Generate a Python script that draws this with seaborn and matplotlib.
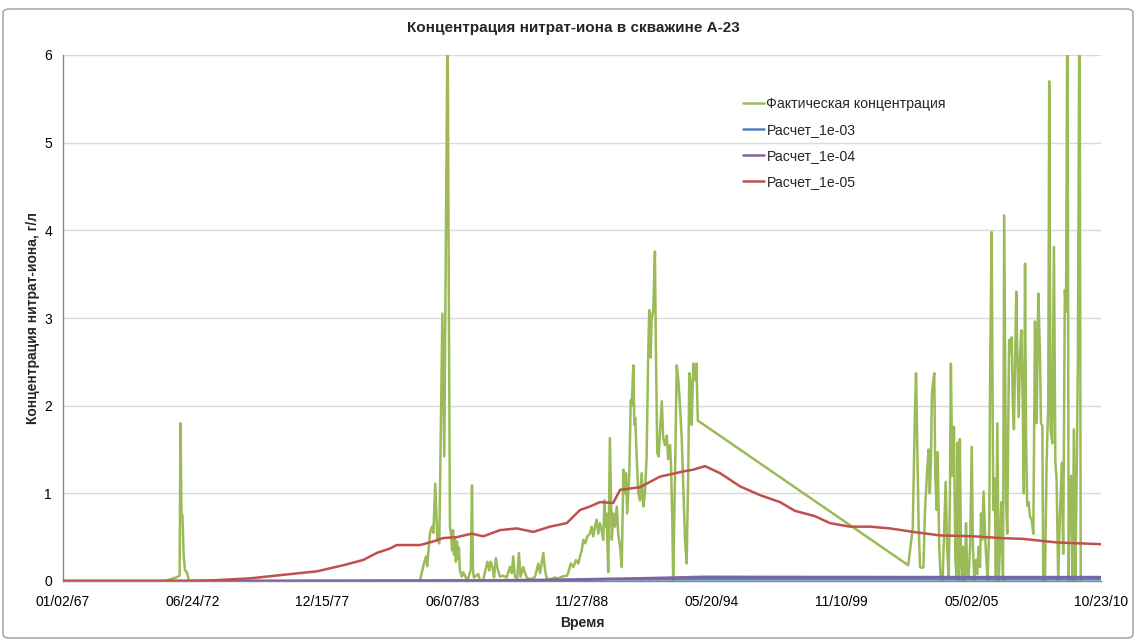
import numpy as np
import pandas as pd
import matplotlib
matplotlib.use("Agg")
import matplotlib.pyplot as plt
import matplotlib.dates as mdates
from matplotlib.patches import FancyBboxPatch
import seaborn as sns

# ---------------- data (time in decimal years, concentration in g/l) ----------------
fact_years = [
    1971.30, 1971.77, 1971.92, 1971.96, 1972.00, 1972.04, 1972.09, 1972.15, 1972.23, 1972.32,
    1977.00, 1981.90,
    1982.07, 1982.23, 1982.32, 1982.37, 1982.49, 1982.57, 1982.63, 1982.71, 1982.80, 1982.88,
    1983.01, 1983.09, 1983.23, 1983.28, 1983.33, 1983.37, 1983.42, 1983.46, 1983.50, 1983.54,
    1983.58, 1983.63, 1983.67, 1983.71, 1983.75, 1983.83, 1983.89, 1984.04, 1984.10, 1984.21,
    1984.26, 1984.30, 1984.34, 1984.53, 1984.60, 1984.72, 1984.91, 1984.99, 1985.05, 1985.13,
    1985.19, 1985.27, 1985.33, 1985.44, 1985.58, 1985.72, 1985.86, 1985.94, 1986.00, 1986.07,
    1986.17, 1986.24, 1986.31, 1986.42, 1986.50, 1986.59, 1986.78, 1986.92, 1987.06, 1987.13,
    1987.20, 1987.27, 1987.34, 1987.41, 1987.55, 1987.76, 1987.90, 1988.05, 1988.26, 1988.32,
    1988.43, 1988.54, 1988.65, 1988.75, 1988.82, 1988.89, 1988.96, 1989.04, 1989.13, 1989.24,
    1989.31, 1989.38, 1989.45, 1989.52, 1989.59, 1989.66, 1989.73, 1989.80, 1989.85, 1989.89,
    1989.94, 1990.01, 1990.08, 1990.16, 1990.22, 1990.29, 1990.37, 1990.43, 1990.51, 1990.58,
    1990.65, 1990.72, 1990.76, 1990.81, 1990.90, 1990.96, 1991.00, 1991.07, 1991.11, 1991.15,
    1991.21, 1991.28, 1991.35, 1991.42, 1991.49, 1991.56, 1991.63, 1991.70, 1991.74, 1991.80,
    1991.84, 1991.91, 1991.98, 1992.02, 1992.08, 1992.14, 1992.19, 1992.27, 1992.33, 1992.40,
    1992.48, 1992.54, 1992.62, 1992.66, 1992.71, 1992.75, 1992.83, 1992.90, 1992.97, 1993.04,
    1993.11, 1993.18, 1993.25, 1993.32, 1993.39, 1993.43, 1993.49, 1993.53, 1993.60, 1993.67,
    1993.73, 1993.79,
    2002.67, 2002.86, 2002.95, 2003.00, 2003.05, 2003.11, 2003.17, 2003.25, 2003.31, 2003.38,
    2003.47, 2003.53, 2003.58, 2003.63, 2003.67, 2003.73, 2003.77, 2003.81, 2003.87, 2003.91,
    2003.98, 2004.04, 2004.12, 2004.19, 2004.25, 2004.31, 2004.38, 2004.43, 2004.47, 2004.53,
    2004.60, 2004.66, 2004.71, 2004.76, 2004.80, 2004.85, 2004.90, 2004.94, 2004.99, 2005.05,
    2005.11, 2005.16, 2005.22, 2005.28, 2005.35, 2005.40, 2005.46, 2005.53, 2005.58, 2005.64,
    2005.70, 2005.74, 2005.79, 2005.85, 2005.91, 2005.96, 2006.02, 2006.09, 2006.13, 2006.19,
    2006.26, 2006.32, 2006.37, 2006.43, 2006.49, 2006.60, 2006.67, 2006.72, 2006.80, 2006.85,
    2006.89, 2006.93, 2006.99, 2007.04, 2007.08, 2007.13, 2007.19, 2007.23, 2007.27, 2007.33,
    2007.39, 2007.44, 2007.50, 2007.55, 2007.60, 2007.64, 2007.69, 2007.75, 2007.81, 2007.88,
    2007.95, 2008.02, 2008.09, 2008.16, 2008.23, 2008.27, 2008.33, 2008.37, 2008.44, 2008.51,
    2008.58, 2008.62, 2008.68, 2008.75, 2008.82, 2008.88, 2008.93, 2009.00, 2009.07, 2009.15,
    2009.21, 2009.28, 2009.33, 2009.39, 2009.44, 2009.50, 2009.55, 2009.61, 2009.66, 2009.72,
    2009.78, 2009.83, 2009.90, 2009.95,
]
fact_vals = [
    0.0, 0.04, 0.06, 1.80, 0.78, 0.75, 0.30, 0.12, 0.10, 0.0,
    0.0, 0.0,
    0.01, 0.20, 0.28, 0.17, 0.55, 0.62, 0.55, 1.11, 0.47, 0.43,
    3.05, 1.42, 6.50, 3.34, 0.62, 0.55, 0.35, 0.58, 0.30, 0.50,
    0.22, 0.45, 0.25, 0.38, 0.12, 0.05, 0.10, 0.02, 0.03, 0.13,
    1.09, 0.13, 0.04, 0.08, 0.0, 0.0, 0.22, 0.12, 0.22, 0.15,
    0.04, 0.26, 0.15, 0.05, 0.06, 0.04, 0.16, 0.09, 0.28, 0.05,
    0.03, 0.32, 0.05, 0.16, 0.09, 0.03, 0.02, 0.05, 0.20, 0.09,
    0.20, 0.32, 0.13, 0.03, 0.02, 0.04, 0.03, 0.05, 0.06, 0.09,
    0.20, 0.16, 0.24, 0.20, 0.28, 0.35, 0.47, 0.43, 0.51, 0.54,
    0.62, 0.51, 0.62, 0.70, 0.54, 0.66, 0.58, 0.47, 0.92, 0.62,
    0.77, 0.10, 1.63, 0.47, 0.77, 0.62, 0.85, 0.54, 0.39, 0.16,
    1.27, 1.00, 1.23, 0.77, 1.23, 2.06, 2.00, 2.46, 1.78, 1.86,
    1.42, 1.00, 0.92, 1.23, 0.85, 1.00, 1.42, 2.63, 3.09, 2.55,
    2.98, 3.09, 3.76, 2.67, 1.46, 1.42, 1.68, 2.05, 1.63, 1.55,
    1.66, 1.39, 1.55, 1.31, 0.73, 0.01, 1.23, 2.46, 2.29, 1.99,
    1.63, 1.05, 0.47, 0.20, 1.31, 2.37, 2.25, 1.78, 2.48, 2.29,
    2.48, 1.83,
    0.18, 0.60, 1.87, 2.37, 1.56, 0.62, 0.16, 0.15, 0.16, 0.81,
    1.27, 1.50, 1.00, 1.39, 2.14, 2.29, 2.37, 1.20, 0.81, 1.47,
    0.39, 0.02, 0.0, 0.62, 1.13, 0.39, 0.02, 1.00, 2.48, 1.20,
    1.76, 0.24, 0.04, 1.58, 0.0, 1.62, 0.24, 0.0, 0.39, 0.0,
    0.66, 0.08, 0.04, 0.39, 1.53, 0.39, 0.0, 0.24, 0.08, 0.39,
    0.16, 0.77, 0.47, 1.02, 0.54, 0.27, 0.0, 0.62, 2.48, 3.98,
    0.81, 1.17, 0.0, 1.80, 0.0, 0.90, 0.0, 4.17, 0.90, 0.54,
    1.73, 2.75, 2.60, 2.78, 2.06, 1.73, 2.70, 3.30, 2.65, 1.87,
    2.57, 2.86, 2.06, 1.00, 3.62, 1.73, 0.86, 0.90, 0.73, 0.70,
    0.54, 2.96, 1.80, 3.28, 2.60, 1.80, 1.77, 0.0, 0.0, 1.35,
    2.00, 5.70, 1.73, 1.57, 3.81, 1.35, 1.17, 0.0, 0.73, 1.35,
    0.31, 3.32, 3.07, 7.00, 0.0, 1.10, 1.20, 0.0, 1.73, 0.0,
    1.20, 2.56, 7.00, 0.0,
]

r3_years = [1967.0, 1980.0, 1985.0, 1988.0, 1990.0, 1994.0, 2000.0, 2005.0, 2010.8]
r3_vals = [0.0, 0.0, 0.003, 0.01, 0.018, 0.02, 0.02, 0.02, 0.02]

r4_years = [1967.0, 1975.0, 1980.0, 1985.0, 1988.0, 1990.0, 1992.0, 1994.0, 2000.0, 2005.0, 2010.8]
r4_vals = [0.0, 0.0, 0.004, 0.008, 0.015, 0.025, 0.035, 0.048, 0.046, 0.045, 0.045]

r5_years = [
    1967.0, 1972.36, 1973.49, 1974.89, 1976.28, 1977.71, 1978.83, 1979.67, 1980.24, 1980.80,
    1981.08, 1982.07, 1982.61, 1983.04, 1983.61, 1984.25, 1984.74, 1985.44, 1986.15, 1986.85,
    1987.55, 1988.26, 1988.82, 1989.24, 1989.66, 1990.22, 1990.51, 1991.35, 1991.91, 1992.19,
    1993.18, 1993.60, 1994.09, 1994.73, 1995.57, 1996.41, 1997.26, 1997.89, 1998.73, 1999.37,
    2000.21, 2001.06, 2001.90, 2002.88, 2004.01, 2005.42, 2006.54, 2007.53, 2008.93, 2010.80,
]
r5_vals = [
    0.0, 0.0, 0.01, 0.03, 0.07, 0.11, 0.18, 0.24, 0.32, 0.37,
    0.41, 0.41, 0.45, 0.49, 0.50, 0.54, 0.51, 0.58, 0.60, 0.56,
    0.62, 0.66, 0.81, 0.85, 0.90, 0.89, 1.04, 1.07, 1.15, 1.19,
    1.25, 1.27, 1.31, 1.23, 1.08, 0.98, 0.90, 0.80, 0.74, 0.66,
    0.62, 0.62, 0.60, 0.56, 0.52, 0.51, 0.49, 0.48, 0.44, 0.42,
]

series_names = ["Фактическая концентрация", "Расчет_1e-03", "Расчет_1e-04", "Расчет_1e-05"]
series_colors = ["#9BBB59", "#4F81BD", "#8064A2", "#C0504D"]
y_ticks = [0, 1, 2, 3, 4, 5, 6]

title = "Концентрация нитрат-иона в скважине А-23"
x_label = "Время"
y_label = "Концентрация нитрат-иона, г/л"

# ---------------- build data frame ----------------
base = pd.Timestamp("1967-01-02")


def to_time(years):
    return base + pd.to_timedelta((np.asarray(years) - 1967.0) * 365.25, unit="D")


frames = []
for name, yrs, vals in zip(series_names,
                           [fact_years, r3_years, r4_years, r5_years],
                           [fact_vals, r3_vals, r4_vals, r5_vals]):
    frames.append(pd.DataFrame({"time": to_time(yrs), "value": vals, "series": name}))
df = pd.concat(frames, ignore_index=True)

# ---------------- plot ----------------
sns.set_theme(style="white")
plt.rcParams["font.family"] = ["Liberation Sans", "DejaVu Sans"]

fig = plt.figure(figsize=(11.38, 6.41), dpi=100)
ax = fig.add_axes([63 / 1138, 1 - 581 / 641, (1101 - 63) / 1138, (581 - 55) / 641])

for name, color in zip(series_names, series_colors):
    sub = df[df["series"] == name]
    sns.lineplot(data=sub, x="time", y="value", ax=ax, color=color, linewidth=1.8,
                 estimator=None, sort=False, label=name, zorder=3)

x0 = base
x1 = base + pd.Timedelta(days=16000)
ax.set_xlim(x0, x1)
ax.set_ylim(0, 6)
ax.set_yticks(y_ticks)
ax.set_yticklabels([str(t) for t in y_ticks])
xt = [base + pd.Timedelta(days=2000 * i) for i in range(9)]
ax.set_xticks(xt)
ax.xaxis.set_major_formatter(mdates.DateFormatter("%m/%d/%y"))

ax.grid(axis="y", color="#D9D9D9", linewidth=1.0, zorder=0)
ax.grid(axis="x", visible=False)
for s in ["top", "right"]:
    ax.spines[s].set_visible(False)
for s in ["left", "bottom"]:
    ax.spines[s].set_color("#868686")
    ax.spines[s].set_linewidth(1.0)
ax.tick_params(axis="both", which="major", labelsize=10, colors="#868686",
               labelcolor="#000000", length=4, width=1, direction="out")
ax.tick_params(axis="x", pad=6)
ax.tick_params(axis="y", pad=4)

ax.set_xlabel(x_label, fontsize=10, fontweight="bold", labelpad=5)
ax.set_ylabel(y_label, fontsize=10, fontweight="bold", labelpad=3)
fig.text(573 / 1138, 1 - 28 / 641, title, ha="center", va="center",
         fontsize=11, fontweight="bold")

handles, labels = ax.get_legend_handles_labels()
ax.legend(handles, labels, loc="upper left", bbox_to_anchor=(743 / 1138, 1 - 97 / 641),
          bbox_transform=fig.transFigure, frameon=False, fontsize=10.2,
          handlelength=1.45, handletextpad=0.2, labelspacing=0.85,
          borderpad=0, borderaxespad=0)

border = FancyBboxPatch((3 / 1138, 3 / 641), 1130 / 1138, 629 / 641,
                        boxstyle="round,pad=0,rounding_size=0.006",
                        transform=fig.transFigure, fill=False,
                        edgecolor="#9A9A9A", linewidth=1.0)
fig.patches.append(border)

fig.savefig("out.png", dpi=100)
